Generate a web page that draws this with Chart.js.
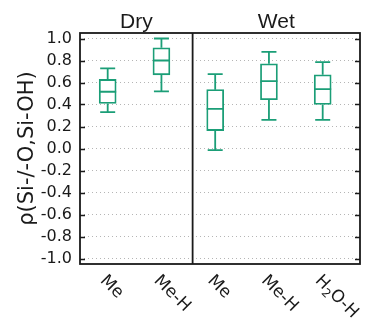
<!DOCTYPE html>
<html>
<head>
<meta charset="utf-8">
<script src="https://cdn.jsdelivr.net/npm/chart.js@4.4.1/dist/chart.umd.min.js"></script>
<style>
  html, body { margin: 0; padding: 0; background: #fff; }
  #wrap { width: 368px; height: 323px; }
</style>
</head>
<body>
<div id="wrap"><canvas id="boxChart" width="368" height="323"></canvas></div>
<script>
/* box plot rho(Si-/-O,Si-OH) - Dry / Wet */

const categories = ['Me', 'Me-H', 'Me', 'Me-H', 'H2O-H'];
const groups = ['Dry', 'Wet'];
const xPos = [1, 2, 3, 4, 5];
const whiskerLow = [0.33, 0.52, -0.015, 0.26, 0.26];
const q1 = [0.41, 0.67, 0.163, 0.444, 0.40];
const medians = [0.516, 0.80, 0.36, 0.613, 0.54];
const q3 = [0.628, 0.915, 0.535, 0.77, 0.67];
const whiskerHigh = [0.728, 1.0, 0.676, 0.879, 0.785];
const yTicks = [-1.0, -0.8, -0.6, -0.4, -0.2, 0.0, 0.2, 0.4, 0.6, 0.8, 1.0];

const TEAL = '#1b9e77';
const INK = '#1a1a1a';
const FONT = '"DejaVu Sans", sans-serif';
const GROUP_SPLIT = 2.58; // position du separateur Dry | Wet

const boxExtras = {
  id: 'boxExtras',
  afterDatasetsDraw(chart) {
    const { ctx, scales: { x, y } } = chart;
    const capHalf = 7.5;
    const boxHalf = 8.5;

    ctx.save();
    ctx.strokeStyle = TEAL;
    ctx.lineWidth = 1.8;
    xPos.forEach((xv, i) => {
      const cx = x.getPixelForValue(xv);
      const yLo = y.getPixelForValue(whiskerLow[i]);
      const yQ1 = y.getPixelForValue(q1[i]);
      const yMed = y.getPixelForValue(medians[i]);
      const yQ3 = y.getPixelForValue(q3[i]);
      const yHi = y.getPixelForValue(whiskerHigh[i]);
      ctx.beginPath();
      // moustaches
      ctx.moveTo(cx, yQ3); ctx.lineTo(cx, yHi);
      ctx.moveTo(cx, yQ1); ctx.lineTo(cx, yLo);
      // capuchons
      ctx.moveTo(cx - capHalf, yHi); ctx.lineTo(cx + capHalf, yHi);
      ctx.moveTo(cx - capHalf, yLo); ctx.lineTo(cx + capHalf, yLo);
      // mediane
      ctx.moveTo(cx - boxHalf, yMed); ctx.lineTo(cx + boxHalf, yMed);
      ctx.stroke();
    });
    ctx.restore();
  },
  afterDraw(chart) {
    const { ctx, chartArea: area, scales: { x, y } } = chart;
    const splitX = x.getPixelForValue(GROUP_SPLIT);

    ctx.save();
    // ticks internes gauche / droite
    ctx.strokeStyle = INK;
    ctx.lineWidth = 1.5;
    ctx.beginPath();
    yTicks.forEach((v) => {
      const py = Math.round(y.getPixelForValue(v)) + 0.5;
      ctx.moveTo(area.left, py); ctx.lineTo(area.left + 5, py);
      ctx.moveTo(area.right, py); ctx.lineTo(area.right - 5, py);
    });
    ctx.stroke();

    // cadre + separateur
    ctx.lineWidth = 1.8;
    ctx.strokeRect(area.left, area.top, area.right - area.left, area.bottom - area.top);
    ctx.beginPath();
    ctx.moveTo(splitX, area.top);
    ctx.lineTo(splitX, area.bottom);
    ctx.stroke();

    // titres des panneaux
    ctx.fillStyle = INK;
    ctx.font = '21px "Liberation Sans", Arial, sans-serif';
    ctx.textAlign = 'center';
    ctx.textBaseline = 'alphabetic';
    ctx.fillText(groups[0], (area.left + splitX) / 2, 28);
    ctx.fillText(groups[1], (splitX + area.right) / 2, 28);

    // etiquettes x inclinees
    ctx.textAlign = 'left';
    ctx.textBaseline = 'top';
    categories.forEach((label, i) => {
      const px = x.getPixelForValue(xPos[i]);
      ctx.save();
      ctx.translate(px + 1, area.bottom + 8);
      ctx.rotate(Math.PI / 4);
      const m = label.match(/^([A-Za-z]+)(\d)(.*)$/);
      if (m) {
        ctx.font = '17px ' + FONT;
        ctx.fillText(m[1], 0, 0);
        let off = ctx.measureText(m[1]).width;
        ctx.font = '12px ' + FONT;
        ctx.fillText(m[2], off, 8);
        off += ctx.measureText(m[2]).width;
        ctx.font = '17px ' + FONT;
        ctx.fillText(m[3], off, 0);
      } else {
        ctx.font = '17px ' + FONT;
        ctx.fillText(label, 0, 0);
      }
      ctx.restore();
    });
    ctx.restore();
  },
};

new Chart(document.getElementById('boxChart').getContext('2d'), {
  type: 'bar',
  data: {
    datasets: [{
      data: xPos.map((xv, i) => ({ x: xv, y: [q1[i], q3[i]] })),
      backgroundColor: '#ffffff',
      borderColor: TEAL,
      borderWidth: 1.8,
      borderSkipped: false,
      barThickness: 17,
    }],
  },
  options: {
    responsive: false,
    animation: false,
    events: [],
    layout: { padding: { top: 33, right: 8, bottom: 0, left: 0 } },
    plugins: { legend: { display: false }, tooltip: { enabled: false } },
    scales: {
      x: {
        type: 'linear',
        offset: false,
        min: 0.485,
        max: 5.694,
        grid: { display: false },
        border: { display: false },
        ticks: { display: false },
        afterFit(scale) { scale.height = 59; },
      },
      y: {
        min: -1.05,
        max: 1.05,
        afterBuildTicks(scale) { scale.ticks = yTicks.map((v) => ({ value: v })); },
        ticks: {
          callback: (v) => Number(v).toFixed(1),
          font: { family: FONT, size: 16 },
          color: INK,
          padding: 8,
        },
        grid: { color: '#b5b5b5', lineWidth: 1, drawTicks: false },
        border: { display: false, dash: [1, 3] },
        title: {
          display: true,
          text: 'ρ(Si-/-O,Si-OH)',
          font: { family: FONT, size: 21 },
          color: INK,
          padding: { top: 15, bottom: 0 },
        },
        afterFit(scale) { scale.width = 80; },
      },
    },
  },
  plugins: [boxExtras],
});
</script>
</body>
</html>
